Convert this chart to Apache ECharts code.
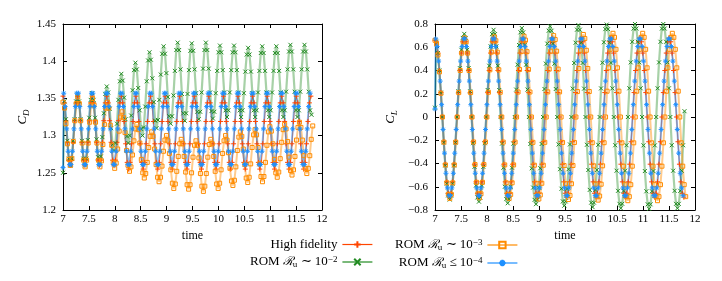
<!DOCTYPE html>
<html><head><meta charset="utf-8">
<script src="https://cdn.jsdelivr.net/npm/echarts@6.0.0/dist/echarts.min.js"></script>
<style>html,body{margin:0;padding:0;background:#fff}#c{width:722px;height:281px}</style>
</head><body><div id="c"></div>
<script>
// ---------- time samples ----------
const timeHF = [
7.000,7.028,7.056,7.084,7.113,7.141,7.169,7.197,7.225,7.253,7.282,7.310,7.338,7.366,7.394,7.422,7.450,7.479,7.507,7.535,
7.563,7.591,7.619,7.647,7.676,7.704,7.732,7.760,7.788,7.816,7.845,7.873,7.901,7.929,7.957,7.985,8.013,8.042,8.070,8.098,
8.126,8.154,8.182,8.210,8.239,8.267,8.295,8.323,8.351,8.379,8.408,8.436,8.464,8.492,8.520,8.548,8.576,8.605,8.633,8.661,
8.689,8.717,8.745,8.773,8.802,8.830,8.858,8.886,8.914,8.942,8.971,8.999,9.027,9.055,9.083,9.111,9.139,9.168,9.196,9.224,
9.252,9.280,9.308,9.336,9.365,9.393,9.421,9.449,9.477,9.505,9.534,9.562,9.590,9.618,9.646,9.674,9.702,9.731,9.759,9.787,
9.815,9.843,9.871,9.899,9.928,9.956,9.984,10.012,10.040,10.068,10.097,10.125,10.153,10.181,10.209,10.237,10.265,10.294,10.322,10.350,
10.378,10.406,10.434,10.462,10.491,10.519,10.547,10.575,10.603,10.631,10.660,10.688,10.716,10.744,10.772,10.800,10.828,10.857,10.885,10.913,
10.941,10.969,10.997,11.025,11.054,11.082,11.110,11.138,11.166,11.194,11.223,11.251,11.279,11.307,11.335,11.363,11.391,11.420,11.448,11.476,
11.504,11.532,11.560,11.588,11.617,11.645,11.673,11.701,11.729,11.757,11.786];

const timeR2 = [
7.000,7.028,7.056,7.084,7.113,7.141,7.169,7.197,7.225,7.253,7.282,7.310,7.338,7.366,7.394,7.422,7.450,7.479,7.507,7.535,
7.563,7.591,7.619,7.647,7.676,7.704,7.732,7.760,7.788,7.816,7.845,7.873,7.901,7.929,7.957,7.985,8.013,8.042,8.070,8.098,
8.126,
8.153,8.180,8.208,8.235,8.262,8.289,8.316,8.344,8.371,8.398,8.425,8.452,8.480,8.507,8.534,8.561,8.588,8.616,8.643,
8.670,8.697,8.724,8.752,8.779,8.806,8.833,8.860,8.888,8.915,8.942,8.969,8.996,9.024,9.051,9.078,9.105,9.132,9.160,9.187,
9.214,9.241,9.268,9.296,9.323,9.350,9.377,9.404,9.432,9.459,9.486,9.513,9.540,9.568,9.595,9.622,9.649,9.676,9.704,9.731,
9.758,9.785,9.812,9.840,9.867,9.894,9.921,9.948,9.976,10.003,10.030,10.057,10.084,10.112,10.139,10.166,10.193,10.220,10.248,10.275,
10.302,10.329,10.356,10.384,10.411,10.438,10.465,10.492,10.520,10.547,10.574,10.601,10.628,10.656,10.683,10.710,10.737,10.764,10.792,10.819,
10.846,10.873,10.900,10.928,10.955,10.982,11.009,11.036,11.064,11.091,11.118,11.145,11.172,11.200,11.227,11.254,11.281,11.308,11.336,11.363,
11.390,11.417,11.444,11.472,11.499,11.526,11.553,11.580,11.608,11.635,11.662,11.689,11.716,11.744,11.771,11.798];

const timeR3 = [
7.000,7.029,7.057,7.086,7.114,7.143,7.171,7.200,7.228,7.257,7.285,7.314,7.342,7.371,7.399,7.428,7.456,7.485,7.514,7.542,
7.571,7.599,7.628,7.656,7.685,7.713,7.742,7.770,7.799,7.827,7.856,7.884,7.913,7.941,7.970,7.998,8.027,8.055,8.084,8.113,
8.141,8.170,8.198,8.227,8.255,8.284,8.312,8.341,8.369,8.398,8.426,8.455,8.483,8.512,8.540,8.569,8.597,8.626,8.655,8.683,
8.712,8.740,8.769,8.797,8.826,8.854,8.883,8.911,8.940,8.968,8.997,9.025,9.054,9.082,9.111,9.139,9.168,9.196,9.225,9.254,
9.282,9.311,9.339,9.368,9.396,9.425,9.453,9.482,9.510,9.539,9.567,9.596,9.624,9.653,9.681,9.710,9.738,9.767,9.796,9.824,
9.853,9.881,9.910,9.938,9.967,9.995,10.024,10.052,10.081,10.109,10.138,10.166,10.195,10.223,10.252,10.280,10.309,10.337,10.366,10.395,
10.423,10.452,10.480,10.509,10.537,10.566,10.594,10.623,10.651,10.680,10.708,10.737,10.765,10.794,10.822,10.851,10.879,10.908,10.937,10.965,
10.994,11.022,11.051,11.079,11.108,11.136,11.165,11.193,11.222,11.250,11.279,11.307,11.336,11.364,11.393,11.421,11.450,11.478,11.507,11.536,
11.564,11.593,11.621,11.650,11.678,11.707,11.735,11.764,11.792,11.821];

const timeR4 = [
7.000,
7.014,7.042,7.070,7.099,7.127,7.155,7.183,7.211,7.239,7.267,7.296,7.324,7.352,7.380,7.408,7.436,7.464,7.493,7.521,7.549,
7.577,7.605,7.633,7.662,7.690,7.718,7.746,7.774,7.802,7.830,7.859,7.887,7.915,7.943,7.971,7.999,8.027,8.056,8.084,8.112,
8.140,8.168,8.196,8.225,8.253,8.281,8.309,8.337,8.365,8.393,8.422,8.450,8.478,8.506,8.534,8.562,8.590,8.619,8.647,8.675,
8.703,8.731,8.759,8.788,8.816,8.844,8.872,8.900,8.928,8.956,8.985,9.013,9.041,9.069,9.097,9.125,9.153,9.182,9.210,9.238,
9.266,9.294,9.322,9.351,9.379,9.407,9.435,9.463,9.491,9.519,9.548,9.576,9.604,9.632,9.660,9.688,9.716,9.745,9.773,9.801,
9.829,9.857,9.885,9.914,9.942,9.970,9.998,10.026,10.054,10.082,10.111,10.139,10.167,10.195,10.223,10.251,10.279,10.308,10.336,10.364,
10.392,10.420,10.448,10.477,10.505,10.533,10.561,10.589,10.617,10.645,10.674,10.702,10.730,10.758,10.786,10.814,10.842,10.871,10.899,10.927,
10.955,10.983,11.011,11.040,11.068,11.096,11.124,11.152,11.180,11.208,11.237,11.265,11.293,11.321,11.349,11.377,11.405,11.434,11.462,11.490,
11.518,11.546,11.574,11.603,11.631,11.659,11.687,11.715,11.743,11.771];

// ---------- drag coefficient C_D ----------
const cdHF = [
1.353,1.344,1.320,1.291,1.267,1.260,1.267,1.291,1.320,1.344, 1.353,1.344,1.320,1.291,1.267,1.260,1.267,1.291,1.320,1.344,
1.353,1.344,1.320,1.291,1.267,1.260,1.267,1.291,1.320,1.344, 1.353,1.344,1.320,1.291,1.267,1.260,1.267,1.291,1.320,1.344,
1.353,1.344,1.319,1.289,1.264,1.255,1.264,1.289,1.319,1.344, 1.353,1.344,1.319,1.289,1.264,1.255,1.264,1.289,1.319,1.344,
1.353,1.344,1.319,1.289,1.264,1.255,1.264,1.289,1.319,1.344, 1.353,1.344,1.319,1.289,1.264,1.255,1.264,1.289,1.319,1.344,
1.353,1.344,1.319,1.289,1.264,1.255,1.264,1.289,1.319,1.344, 1.353,1.344,1.319,1.289,1.264,1.255,1.264,1.289,1.319,1.344,
1.353,1.344,1.319,1.289,1.264,1.255,1.264,1.289,1.319,1.344, 1.353,1.344,1.319,1.289,1.264,1.255,1.264,1.289,1.319,1.344,
1.353,1.344,1.319,1.289,1.264,1.255,1.264,1.289,1.319,1.344, 1.353,1.344,1.319,1.289,1.264,1.255,1.264,1.289,1.319,1.344,
1.353,1.344,1.319,1.289,1.264,1.255,1.264,1.289,1.319,1.344, 1.353,1.344,1.319,1.289,1.264,1.255,1.264,1.289,1.319,1.344,
1.353,1.344,1.319,1.289,1.264,1.255,1.264,1.289,1.319,1.344, 1.353];

const cdR2 = [
1.250,1.346,1.322,1.293,1.269,1.260,1.269,1.293,1.322,1.346, 1.355,1.346,1.322,1.293,1.269,1.260,1.269,1.294,1.324,1.348,
1.357,1.348,1.324,1.295,1.271,1.262,1.272,1.298,1.330,1.356, 1.366,1.358,1.336,1.310,1.288,1.280,1.290,1.316,1.348,1.373,
1.383,1.374,1.351,1.322,1.299,1.290,1.300,1.327,1.361,1.388, 1.398,1.389,1.364,1.334,1.309,1.300,1.311,1.339,1.373,1.401,
1.412,1.402,1.377,1.345,1.320,1.310,1.321,1.348,1.382,1.410, 1.420,1.410,1.384,1.352,1.326,1.316,1.326,1.354,1.387,1.415,
1.425,1.415,1.389,1.356,1.330,1.320,1.330,1.356,1.388,1.414, 1.424,1.414,1.389,1.357,1.332,1.322,1.332,1.358,1.390,1.415,
1.425,1.415,1.390,1.358,1.333,1.323,1.332,1.357,1.387,1.412, 1.421,1.412,1.388,1.358,1.334,1.325,1.334,1.358,1.388,1.412,
1.421,1.412,1.388,1.358,1.334,1.325,1.334,1.357,1.386,1.409, 1.418,1.409,1.386,1.357,1.334,1.325,1.334,1.358,1.387,1.411,
1.420,1.411,1.387,1.358,1.334,1.325,1.334,1.358,1.387,1.411, 1.420,1.411,1.387,1.358,1.334,1.325,1.334,1.359,1.389,1.413,
1.422,1.413,1.389,1.359,1.334,1.325,1.334,1.359,1.389,1.413, 1.422,1.413,1.389,1.359,1.334,1.328];

const cdR3 = [
1.345,1.337,1.316,1.289,1.268,1.260,1.269,1.292,1.320,1.343, 1.352,1.343,1.320,1.290,1.267,1.258,1.267,1.290,1.318,1.341,
1.350,1.341,1.318,1.290,1.267,1.258,1.266,1.288,1.315,1.337, 1.345,1.337,1.314,1.287,1.264,1.256,1.263,1.282,1.306,1.325,
1.332,1.324,1.304,1.280,1.260,1.252,1.258,1.274,1.293,1.309, 1.315,1.308,1.290,1.268,1.250,1.243,1.249,1.264,1.284,1.299,
1.305,1.299,1.282,1.261,1.244,1.238,1.244,1.259,1.279,1.294, 1.300,1.293,1.276,1.254,1.236,1.229,1.235,1.252,1.272,1.289,
1.295,1.289,1.272,1.251,1.234,1.228,1.234,1.250,1.271,1.287, 1.293,1.287,1.270,1.249,1.232,1.225,1.232,1.249,1.271,1.288,
1.295,1.289,1.272,1.252,1.235,1.229,1.236,1.254,1.276,1.293, 1.300,1.294,1.277,1.256,1.239,1.233,1.240,1.258,1.280,1.298,
1.305,1.299,1.282,1.261,1.243,1.237,1.244,1.262,1.284,1.301, 1.308,1.301,1.284,1.262,1.245,1.238,1.245,1.264,1.287,1.305,
1.312,1.306,1.289,1.268,1.250,1.244,1.251,1.269,1.291,1.308, 1.315,1.309,1.292,1.271,1.253,1.247,1.254,1.272,1.294,1.311,
1.318,1.311,1.294,1.273,1.256,1.249,1.256,1.273,1.295,1.313];

const cdR4 = [
1.257,
1.357,1.339,1.309,1.279,1.261,1.261,1.279,1.309,1.339,1.357, 1.357,1.339,1.309,1.279,1.261,1.261,1.279,1.309,1.339,1.357,
1.357,1.339,1.309,1.279,1.261,1.261,1.279,1.309,1.339,1.357, 1.357,1.339,1.309,1.279,1.261,1.261,1.279,1.309,1.339,1.357,
1.357,1.339,1.309,1.279,1.261,1.261,1.279,1.309,1.339,1.357, 1.357,1.339,1.309,1.279,1.261,1.261,1.279,1.309,1.339,1.357,
1.357,1.339,1.309,1.279,1.261,1.261,1.279,1.309,1.339,1.357, 1.357,1.339,1.309,1.279,1.261,1.261,1.279,1.309,1.339,1.357,
1.357,1.339,1.309,1.279,1.261,1.261,1.279,1.309,1.339,1.357, 1.357,1.339,1.309,1.279,1.261,1.261,1.279,1.309,1.339,1.357,
1.357,1.339,1.309,1.279,1.261,1.261,1.279,1.309,1.339,1.357, 1.357,1.339,1.309,1.279,1.261,1.261,1.279,1.309,1.339,1.357,
1.357,1.339,1.309,1.279,1.261,1.261,1.279,1.309,1.339,1.357, 1.357,1.339,1.309,1.279,1.261,1.261,1.279,1.309,1.339,1.357,
1.357,1.339,1.309,1.279,1.261,1.261,1.279,1.309,1.339,1.357, 1.357,1.339,1.309,1.279,1.261,1.261,1.279,1.309,1.339,1.357,
1.357,1.339,1.309,1.279,1.261,1.261,1.279,1.309,1.339,1.357];

// ---------- lift coefficient C_L ----------
const clHF = [
.660,.647,.550,.400,.210,0,-.213,-.406,-.558,-.656,-.690,-.656,-.558,-.406,-.213,0,.210,.400,.550,.647,
.680,.647,.550,.400,.210,0,-.213,-.406,-.558,-.656,-.690,-.656,-.558,-.406,-.213,0,.210,.400,.550,.647,
.680,.647,.550,.400,.210,0,-.213,-.406,-.558,-.656,-.690,-.656,-.558,-.406,-.213,0,.210,.400,.550,.647,
.680,.647,.550,.400,.210,0,-.213,-.406,-.558,-.656,-.690,-.656,-.558,-.406,-.213,0,.210,.400,.550,.647,
.680,.647,.550,.400,.210,0,-.213,-.406,-.558,-.656,-.690,-.656,-.558,-.406,-.213,0,.210,.400,.550,.647,
.680,.647,.550,.400,.210,0,-.213,-.406,-.558,-.656,-.690,-.656,-.558,-.406,-.213,0,.210,.400,.550,.647,
.680,.647,.550,.400,.210,0,-.213,-.406,-.558,-.656,-.690,-.656,-.558,-.406,-.213,0,.210,.400,.550,.647,
.680,.647,.550,.400,.210,0,-.213,-.406,-.558,-.656,-.690,-.656,-.558,-.406,-.213,0,.210,.400,.550,.647,
.680,.647,.550,.400,.210,0,-.213,-.406,-.558,-.656,-.690];

const clR2 = [
.080,.647,.550,.400,.210,0,-.219,-.417,-.574,-.675,-.710,-.675,-.574,-.417,-.219,0,.221,.420,.578,.680,
.715,.680,.578,.420,.221,0,-.225,-.428,-.589,-.692,-.728,-.692,-.589,-.428,-.225,0,.232,.441,.607,.713,
.750,
.713,.607,.441,.232,0,-.229,-.436,-.600,-.706,-.742,-.706,-.600,-.436,-.229,0,.236,.450,.619,.728,
.765,.728,.619,.450,.236,0,-.232,-.441,-.607,-.713,-.750,-.713,-.607,-.441,-.232,0,.241,.459,.631,.742,
.780,.742,.631,.459,.241,0,-.236,-.449,-.617,-.726,-.763,-.726,-.617,-.449,-.236,0,.244,.465,.639,.751,
.790,.751,.639,.465,.244,0,-.239,-.456,-.627,-.737,-.775,-.737,-.627,-.456,-.239,0,.246,.467,.643,.756,
.795,.756,.643,.467,.246,0,-.243,-.462,-.635,-.747,-.785,-.747,-.635,-.462,-.243,0,.247,.470,.647,.761,
.800,.761,.647,.470,.247,0,-.244,-.465,-.639,-.751,-.790,-.751,-.639,-.465,-.244,0,.247,.470,.647,.761,
.800,.761,.647,.470,.247,0,-.243,-.462,-.635,-.747,-.785,-.747,-.635,-.462,-.243,.050];

const clR3 = [
.660,.628,.534,.388,.204,0,-.216,-.412,-.566,-.666,-.700,-.666,-.566,-.412,-.216,0,.210,.400,.550,.647,
.680,.647,.550,.400,.210,0,-.215,-.409,-.562,-.661,-.695,-.661,-.562,-.409,-.215,0,.213,.406,.558,.656,
.690,.656,.558,.406,.213,0,-.216,-.412,-.566,-.666,-.700,-.666,-.566,-.412,-.216,0,.215,.409,.562,.661,
.695,.661,.562,.409,.215,0,-.218,-.415,-.570,-.670,-.705,-.670,-.570,-.415,-.218,0,.216,.412,.566,.666,
.700,.666,.566,.412,.216,0,-.219,-.417,-.574,-.675,-.710,-.675,-.574,-.417,-.219,0,.219,.417,.574,.675,
.710,.675,.574,.417,.219,0,-.221,-.420,-.578,-.680,-.715,-.680,-.578,-.420,-.221,0,.222,.423,.582,.685,
.720,.685,.582,.423,.222,0,-.222,-.423,-.582,-.685,-.720,-.685,-.582,-.423,-.222,0,.222,.423,.582,.685,
.720,.685,.582,.423,.222,0,-.222,-.423,-.582,-.685,-.720,-.685,-.582,-.423,-.222,0,.222,.423,.582,.685,
.720,.685,.582,.423,.222,0,-.222,-.423,-.582,-.685];

const clR4 = [
.070,
.672,.606,.481,.309,.106,-.107,-.311,-.484,-.610,-.677,-.677,-.610,-.484,-.311,-.107,.106,.309,.481,.606,.672,
.672,.606,.481,.309,.106,-.107,-.311,-.484,-.610,-.677,-.677,-.610,-.484,-.311,-.107,.106,.309,.481,.606,.672,
.672,.606,.481,.309,.106,-.107,-.311,-.484,-.610,-.677,-.677,-.610,-.484,-.311,-.107,.106,.309,.481,.606,.672,
.672,.606,.481,.309,.106,-.107,-.311,-.484,-.610,-.677,-.677,-.610,-.484,-.311,-.107,.106,.309,.481,.606,.672,
.672,.606,.481,.309,.106,-.107,-.311,-.484,-.610,-.677,-.677,-.610,-.484,-.311,-.107,.106,.309,.481,.606,.672,
.672,.606,.481,.309,.106,-.107,-.311,-.484,-.610,-.677,-.677,-.610,-.484,-.311,-.107,.106,.309,.481,.606,.672,
.672,.606,.481,.309,.106,-.107,-.311,-.484,-.610,-.677,-.677,-.610,-.484,-.311,-.107,.106,.309,.481,.606,.672,
.672,.606,.481,.309,.106,-.107,-.311,-.484,-.610,-.677,-.677,-.610,-.484,-.311,-.107,.106,.309,.481,.606,.672,
.672,.606,.481,.309,.106,-.107,-.311,-.484,-.610,-.677];

// ---------- labels ----------
const seriesKeys = ['hf', 'r2', 'r3', 'r4'];
const legendText = {
  hf: 'High fidelity',
  r2: 'ROM {r|ℛ}{sub|u} ∼ 10{sup|−2}',
  r3: 'ROM {r|ℛ}{sub|u} ∼ 10{sup|−3}',
  r4: 'ROM {r|ℛ}{sub|u} ≤ 10{sup|−4}'
};
const xTitle = 'time';
const cdTitle = '{c|C}{s|D}';
const clTitle = '{c|C}{s|L}';

// ---------- styling ----------
const FONT = 'Liberation Serif';
const COLORS = { hf: '#ff4500', r2: '#228b22', r3: '#ff8c00', r4: '#1e90ff' };
const SYMBOLS = {
  hf: 'path://M0,5L10,5M5,0L5,10',
  r2: 'path://M0,0L10,10M0,10L10,0',
  r3: 'path://M0,0L10,0L10,10L0,10Z',
  r4: 'path://M0,5L10,5M5,0L5,10M1.6,1.6L8.4,8.4M1.6,8.4L8.4,1.6'
};
const SIZES = { hf: 5, r2: 4, r3: 4, r4: 5 };
const LINEW = { hf: 1.2, r2: 2.2, r3: 2, r4: 2 };
const LINEA = { hf: 0.75, r2: 0.4, r3: 0.45, r4: 0.5 };
const DATA = {
  hf: [timeHF, cdHF, clHF],
  r2: [timeR2, cdR2, clR2],
  r3: [timeR3, cdR3, clR3],
  r4: [timeR4, cdR4, clR4]
};

function mkSeries(key, g) {
  const [T, CD, CL] = DATA[key];
  const V = g === 0 ? CD : CL;
  const c = COLORS[key];
  return {
    type: 'line', name: key, xAxisIndex: g * 2, yAxisIndex: g * 2,
    data: T.map((t, i) => [t, V[i]]),
    symbol: SYMBOLS[key], symbolSize: SIZES[key], showSymbol: true,
    lineStyle: { color: c, width: LINEW[key], opacity: LINEA[key] },
    itemStyle: { color: key === 'r3' ? 'rgba(0,0,0,0)' : c, borderColor: c, borderWidth: 1, opacity: 1 },
    emphasis: { disabled: true },
    animation: false, clip: true
  };
}

const tickFont = { fontFamily: FONT, fontSize: 11, color: '#000' };
function xAxes(g) {
  const base = {
    type: 'value', gridIndex: g, min: 7, max: 12, interval: 0.5,
    axisLine: { show: true, onZero: false, lineStyle: { color: '#000', width: 1 } },
    axisTick: { show: true, inside: true, length: 4, lineStyle: { color: '#000', width: 1 } },
    splitLine: { show: false }
  };
  return [
    Object.assign({}, base, { position: 'bottom', axisLabel: Object.assign({ margin: 4 }, tickFont),
      name: xTitle, nameLocation: 'middle', nameGap: 17,
      nameTextStyle: { fontFamily: FONT, fontSize: 12, color: '#000' } }),
    Object.assign({}, base, { position: 'top', axisLabel: { show: false } })
  ];
}
function yAxes(g) {
  const isCD = g === 0;
  const base = {
    type: 'value', gridIndex: g,
    min: isCD ? 1.2 : -0.8, max: isCD ? 1.45 : 0.8, interval: isCD ? 0.05 : 0.2,
    axisLine: { show: true, onZero: false, lineStyle: { color: '#000', width: 1 } },
    axisTick: { show: true, inside: true, length: 4, lineStyle: { color: '#000', width: 1 } },
    splitLine: { show: false }
  };
  const subRich = {
    c: { fontFamily: FONT, fontSize: 13, fontStyle: 'italic', color: '#000' },
    s: { fontFamily: FONT, fontSize: 9, fontStyle: 'italic', color: '#000', padding: [7, 0, 0, 0] }
  };
  return [
    Object.assign({}, base, { position: 'left',
      axisLabel: Object.assign({ margin: 7, formatter: v => String(v).replace('-', '−') }, tickFont),
      name: isCD ? cdTitle : clTitle, nameLocation: 'middle', nameRotate: 90,
      nameGap: isCD ? 32 : 36, nameTextStyle: { rich: subRich } }),
    Object.assign({}, base, { position: 'right', axisLabel: { show: false } })
  ];
}

const legendRich = {
  r: { fontFamily: 'DejaVu Serif', fontSize: 12, fontStyle: 'italic', color: '#000' },
  sub: { fontFamily: FONT, fontSize: 9, color: '#000', padding: [5, 0, 0, 0] },
  sup: { fontFamily: FONT, fontSize: 9, color: '#000', padding: [0, 0, 5, 0] }
};
function mkLegend(keys, right) {
  return {
    data: keys, orient: 'vertical', align: 'right', right: right, top: 238,
    padding: 0, itemWidth: 30, itemHeight: 8, itemGap: 4, selectedMode: false,
    lineStyle: { width: 1.2, opacity: 1 },
    formatter: n => legendText[n],
    textStyle: { fontFamily: FONT, fontSize: 13, color: '#000', rich: legendRich }
  };
}

const chart = echarts.init(document.getElementById('c'), null, { renderer: 'canvas' });
chart.setOption({
  animation: false,
  backgroundColor: '#fff',
  grid: [
    { left: 63, top: 24, width: 259, height: 186 },
    { left: 435, top: 24, width: 260, height: 186 }
  ],
  xAxis: [...xAxes(0), ...xAxes(1)],
  yAxis: [...yAxes(0), ...yAxes(1)],
  legend: [mkLegend(['hf', 'r2'], 349), mkLegend(['r3', 'r4'], 204)],
  series: [0, 1].flatMap(g => seriesKeys.map(k => mkSeries(k, g)))
});
</script></body></html>
